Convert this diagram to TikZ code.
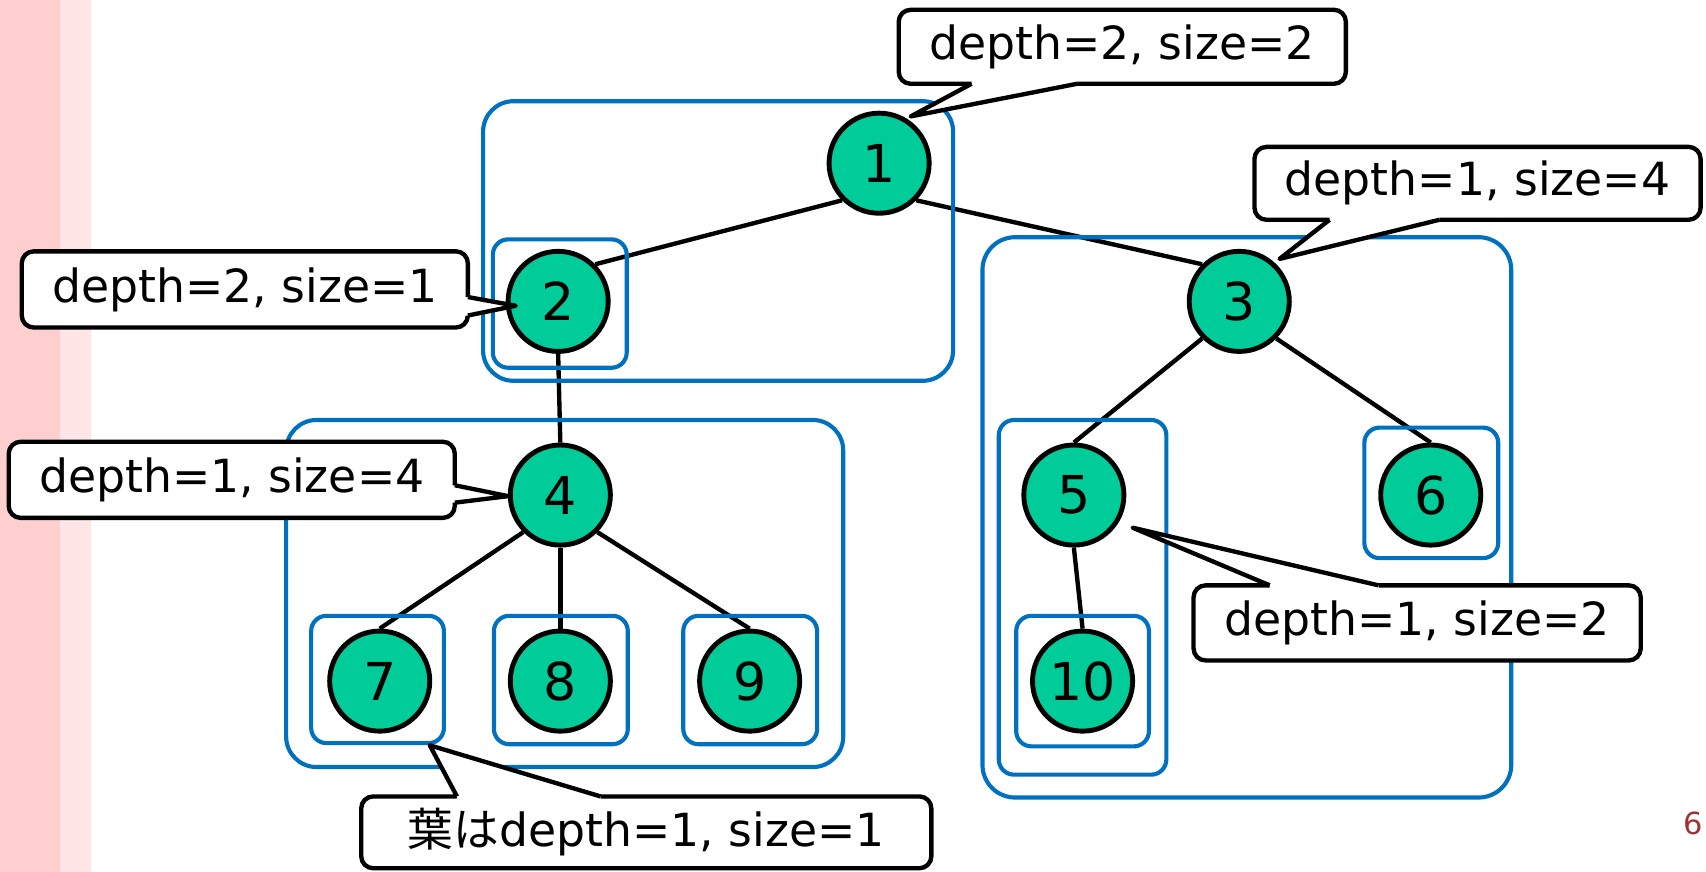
\documentclass[tikz,border=0pt]{standalone}
\usepackage{fontspec}
\setmainfont{DejaVu Sans}
\newfontfamily\cjk{Noto Sans CJK JP}
\definecolor{treefill}{RGB}{0,204,153}
\definecolor{boxblue}{RGB}{0,112,192}
\definecolor{pinkA}{RGB}{255,207,207}
\definecolor{pinkB}{RGB}{255,229,229}
\definecolor{pagered}{RGB}{160,50,50}
\pgfdeclarelayer{bgedges}
\pgfdeclarelayer{bgboxes}
\pgfsetlayers{bgedges,bgboxes,main}
\begin{document}
\begin{tikzpicture}[x=1pt,y=-1pt,
  tnode/.style={circle, draw=black, line width=4.5pt, fill=treefill, minimum size=92pt, inner sep=0pt, font=\fontsize{48}{54}\selectfont},
  edge/.style={line width=4pt},
  grp/.style={draw=boxblue, line width=3.8pt, rounded corners=#1},
  grp/.default=14pt,
  cbox/.style={draw=black, line width=4pt, fill=white, rounded corners=11pt, inner sep=0pt, font=\fontsize{42}{48}\selectfont},
  ptr/.style={line width=4pt, line join=round},
]
\useasboundingbox (0,0) rectangle (1568,801);

% tree nodes
\node[tnode] (n1) at (808,150) {1};
\node[tnode] (n2) at (513,277) {2};
\node[tnode] (n3) at (1139,277) {3};
\node[tnode] (n4) at (515,455) {4};
\node[tnode] (n5) at (987,455) {5};
\node[tnode] (n6) at (1315,455) {6};
\node[tnode] (n7) at (349,626) {7};
\node[tnode] (n8) at (515,626) {8};
\node[tnode] (n9) at (689,626) {9};
\node[tnode] (n10) at (995,626) {10};

% background strips and edges
\begin{pgfonlayer}{bgedges}
\fill[pinkA] (0,0) rectangle (55,801);
\fill[pinkB] (55,0) rectangle (84,801);
\draw[edge] (n1.south west) -- (n2.north east);
\draw[edge] (n1.south east) -- (n3.north west);
\draw[edge] (n2.south) -- (n4.north);
\draw[edge] (n3.south west) -- (n5.north);
\draw[edge] (n3.south east) -- (n6.north);
\draw[edge] (n4.south west) -- (n7.north);
\draw[edge] (n4.south) -- (n8.north);
\draw[edge] (n4.south east) -- (n9.north);
\draw[edge] (n5.south) -- (n10.north);
\end{pgfonlayer}

% group boxes
\begin{pgfonlayer}{bgboxes}
\draw[grp=28pt] (444,93) rectangle (876,350);
\draw[grp] (453,220) rectangle (576,338);
\draw[grp=28pt] (263,386) rectangle (775,705);
\draw[grp] (286,566) rectangle (408,683);
\draw[grp] (454,566) rectangle (577,684);
\draw[grp] (628,566) rectangle (751,684);
\draw[grp=30pt] (903,218) rectangle (1389,733);
\draw[grp] (918,386) rectangle (1072,712);
\draw[grp] (934,566) rectangle (1056,686);
\draw[grp] (1254,393) rectangle (1377,513);
\end{pgfonlayer}

% callout 1 (top)
\node[cbox, minimum width=411pt, minimum height=68pt] (c1) at (1031.5,43) {depth=2, size=2};
\coordinate (p1a) at (893,77); \coordinate (p1b) at (990,77); \coordinate (p1t) at (837,107);
\fill[white] (p1a) -- (p1t) -- (p1b) -- ([yshift=5pt]p1b) -- ([yshift=5pt]p1a) -- cycle;
\draw[ptr] (p1a) -- (p1t) -- (p1b);

% callout 2 (top right)
\node[cbox, minimum width=410pt, minimum height=67pt] (c2) at (1358,168.5) {depth=1, size=4};
\coordinate (p2a) at (1222,202); \coordinate (p2b) at (1323,202); \coordinate (p2t) at (1176,238);
\fill[white] (p2a) -- (p2t) -- (p2b) -- ([yshift=5pt]p2b) -- ([yshift=5pt]p2a) -- cycle;
\draw[ptr] (p2a) -- (p2t) -- (p2b);

% callout 3 (left, node 2)
\node[cbox, minimum width=410pt, minimum height=70pt] (c3) at (225,266) {depth=2, size=1};
\coordinate (p3a) at (430,273); \coordinate (p3b) at (430,290); \coordinate (p3t) at (474,281);
\fill[white] (p3a) -- (p3t) -- (p3b) -- ([xshift=-5pt]p3b) -- ([xshift=-5pt]p3a) -- cycle;
\draw[ptr] (p3a) -- (p3t) -- (p3b);

% callout 4 (left, node 4)
\node[cbox, minimum width=410pt, minimum height=70pt] (c4) at (213,441) {depth=1, size=4};
\coordinate (p4a) at (418,446); \coordinate (p4b) at (418,462); \coordinate (p4t) at (467,456);
\fill[white] (p4a) -- (p4t) -- (p4b) -- ([xshift=-5pt]p4b) -- ([xshift=-5pt]p4a) -- cycle;
\draw[ptr] (p4a) -- (p4t) -- (p4b);

% callout 5 (node 5)
\node[cbox, minimum width=411pt, minimum height=69pt] (c5) at (1302.5,572.5) {depth=1, size=2};
\coordinate (p5a) at (1167,538); \coordinate (p5b) at (1267,538); \coordinate (p5t) at (1041,485);
\fill[white] (p5a) -- (p5t) -- (p5b) -- ([yshift=-5pt]p5b) -- ([yshift=-5pt]p5a) -- cycle;
\draw[ptr] (p5a) -- (p5t) -- (p5b);

% callout 6 (bottom, leaves)
\node[cbox, minimum width=524pt, minimum height=66pt] (c6) at (594,765) {{\cjk 葉は}depth=1, size=1};
\coordinate (p6a) at (420,732); \coordinate (p6b) at (552,732); \coordinate (p6t) at (395,685);
\fill[white] (p6a) -- (p6t) -- (p6b) -- ([yshift=-5pt]p6b) -- ([yshift=-5pt]p6a) -- cycle;
\draw[ptr] (p6a) -- (p6t) -- (p6b);

% page number
\node[text=pagered, font=\fontsize{28}{32}\selectfont] (pg) at (1556,757) {6};
\end{tikzpicture}
\end{document}
